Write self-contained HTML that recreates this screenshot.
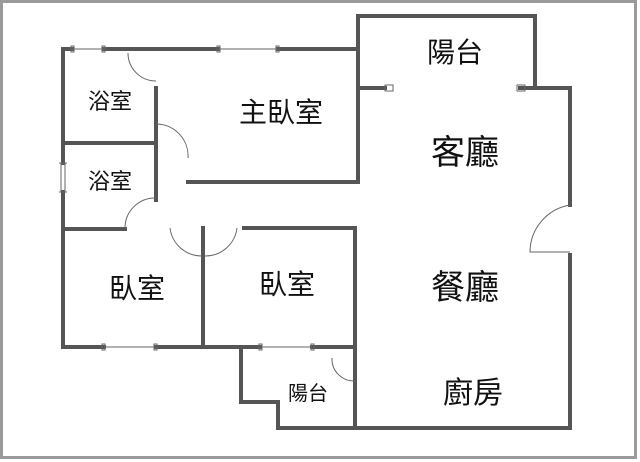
<!DOCTYPE html>
<html><head><meta charset="utf-8"><style>
html,body{margin:0;padding:0;background:#fff}
svg{display:block}
text{font-family:"Liberation Sans","Noto Sans CJK TC",sans-serif;fill:#111}
</style></head><body>
<svg width="640" height="462" viewBox="0 0 640 462" xmlns="http://www.w3.org/2000/svg">
<rect x="1.5" y="1.5" width="634" height="456" fill="#fff" stroke="#9a9a9a" stroke-width="3"/>
<g stroke="#555" stroke-width="4" fill="none" stroke-linecap="square">
<path d="M63 49 H72 M104 49 H218 M278 49 H358"/>
<path d="M63 49 V163 M63 192 V347"/>
<path d="M63 143 H156"/>
<path d="M156 88 V178 M156 182 V200"/>
<path d="M188 182 H358 V16 H535 V88 H570 V205 M570 255 V428 H278 V402 H241 V347"/>
<path d="M358 88 H385 M520 88 H535"/>
<path d="M63 229 H125"/>
<path d="M63 347 H104 M156 347 H260 M312 347 H355"/>
<path d="M244 228 H355 V428"/>
<path d="M203 228 V347"/>
</g>
<g stroke="#666" stroke-width="1" fill="none">
<path d="M72 49 H104 M218 49 H278 M104 347 H156 M260 347 H312"/>
<rect x="71" y="46" width="3" height="6"/><rect x="102" y="46" width="3" height="6"/>
<rect x="217" y="46" width="3" height="6"/><rect x="276" y="46" width="3" height="6"/>
<rect x="102" y="344" width="3" height="6"/><rect x="154" y="344" width="3" height="6"/>
<rect x="259" y="344" width="3" height="6"/><rect x="311" y="344" width="3" height="6"/>
<rect x="385" y="85" width="8" height="6"/><rect x="517" y="85" width="8" height="6"/>
<path d="M128 53 A28 28 0 0 0 156 81"/>
<path d="M156 124 A32 32 0 0 1 188 158"/>
<path d="M125 228 A30 30 0 0 1 156 198"/>
<path d="M170 228 A32 32 0 0 0 202 256 M205 256 A32 32 0 0 0 237 228"/>
<path d="M570 205 A48 48 0 0 0 530 252 H570"/>
<path d="M332 358 A22 22 0 0 0 355 381"/>
<path d="M59 163 H67 M59 192 H67 M61 163 V192 M65 163 V192"/>
</g>
<text x="110" y="109" font-size="22" text-anchor="middle">浴室</text>
<text x="110" y="189" font-size="22" text-anchor="middle">浴室</text>
<text x="281" y="122" font-size="28" text-anchor="middle">主臥室</text>
<text x="137" y="298" font-size="28" text-anchor="middle">臥室</text>
<text x="287" y="294" font-size="28" text-anchor="middle">臥室</text>
<text x="455" y="62" font-size="28" text-anchor="middle">陽台</text>
<text x="465" y="164" font-size="34" text-anchor="middle">客廳</text>
<text x="465" y="299" font-size="34" text-anchor="middle">餐廳</text>
<text x="473" y="403" font-size="30" text-anchor="middle">廚房</text>
<text x="308" y="400" font-size="20" text-anchor="middle">陽台</text>
</svg>
</body></html>
